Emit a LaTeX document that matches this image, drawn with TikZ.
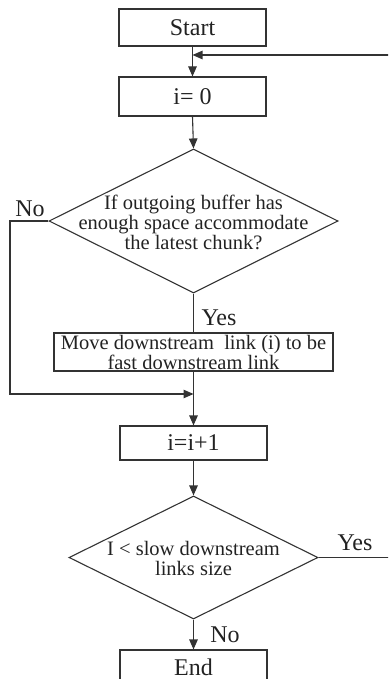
\documentclass[tikz,border=0pt]{standalone}
\usepackage{fontspec}
\setmainfont{Liberation Serif}
\usetikzlibrary{shapes.geometric,arrows.meta}
\definecolor{linec}{HTML}{333333}
\definecolor{textc}{HTML}{222222}
\tikzset{
  box/.style={draw=linec, line width=1.1pt, rectangle, inner sep=0pt, text=textc, font=\fontsize{24}{24}\selectfont},
  dia/.style={draw=linec, line width=1.1pt, diamond, inner sep=0pt},
  dtext/.style={text=textc, align=center, inner sep=0pt, font=\fontsize{20.5}{20}\selectfont},
  lbl/.style={text=textc, inner sep=0pt, font=\fontsize{24}{24}\selectfont},
  conn/.style={draw=linec, line width=1.1pt},
  arr/.style={conn, -{Triangle[length=10pt,width=8.5pt]}}
}
\begin{document}
\begin{tikzpicture}[x=1pt,y=-1pt]
\clip (0,0) rectangle (388,679);
\node[box, minimum width=147pt, minimum height=37pt] (start) at (192.5,27.5) {Start};
\node[box, minimum width=147pt, minimum height=39pt] (i0) at (192.5,96.5) {i= 0};
\node[dia, minimum width=289pt, minimum height=144pt] (d1) at (193.5,221) {};
\node[dtext] (d1t) at (193.5,222) {If outgoing buffer has\\enough space accommodate\\the latest chunk?};
\node[box, minimum width=279pt, minimum height=38pt, align=center, font=\fontsize{20.5}{20}\selectfont] (move) at (193.5,352) {Move downstream\ \ link (i) to be\\fast downstream link};
\node[box, minimum width=147pt, minimum height=34pt] (i1) at (193.5,443) {i=i+1};
\node[dia, minimum width=249pt, minimum height=123pt] (d2) at (193.5,557.5) {};
\node[dtext] (d2t) at (193.5,558) {I < slow downstream\\links size};
\node[box, minimum width=147pt, minimum height=34pt] (end) at (193.5,667) {End};
\coordinate (loopA) at (400,557.5);
\coordinate (loopB) at (400,55);
\coordinate (loopC) at (192.5,55);
\coordinate (noA) at (10,221);
\coordinate (noB) at (10,394);
\coordinate (noC) at (193.5,394);
\draw[arr] (start.south) -- (i0.north);
\draw[arr] (d2.east) -- (loopA) -- (loopB) -- (loopC);
\draw[arr] (i0.south) -- (d1.north);
\draw[arr] (d1.west) -- (noA) -- (noB) -- (noC);
\draw[conn] (d1.south) -- (move.north);
\draw[arr] (move.south) -- (i1.north);
\draw[arr] (i1.south) -- (d2.north);
\draw[arr] (d2.south) -- (end.north);
\node[lbl] (no1) at (30,209) {No};
\node[lbl] (yes1) at (219,318) {Yes};
\node[lbl] (yes2) at (355,543) {Yes};
\node[lbl] (no2) at (225,635) {No};
\end{tikzpicture}
\end{document}
